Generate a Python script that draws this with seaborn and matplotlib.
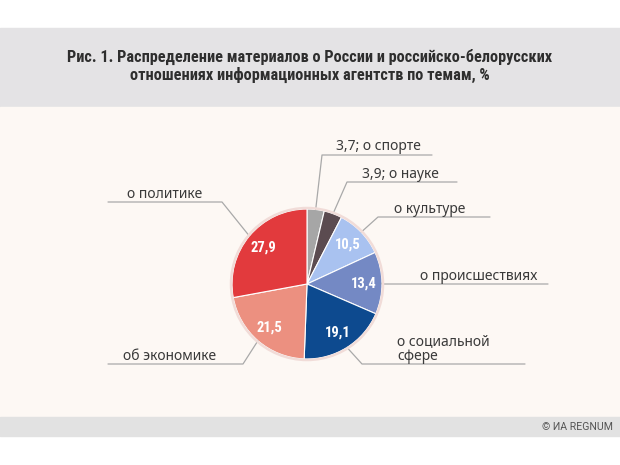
import numpy as np
import matplotlib
matplotlib.use("Agg")
import matplotlib.pyplot as plt
from matplotlib import font_manager
from matplotlib.patches import Rectangle, Circle
import seaborn as sns

# data (clockwise from 12 o'clock)
topics = ['о спорте', 'о науке', 'о культуре', 'о происшествиях',
          'о социальной\nсфере', 'об экономике', 'о политике']
shares = [3.7, 3.9, 10.5, 13.4, 19.1, 21.5, 27.9]
colors = ['#a6a6a6', '#5b4b50', '#a9c2f0', '#7489c4', '#0d4a8f', '#ec9080', '#e23a3d']

title = ('Рис. 1. Распределение материалов о России и российско-белорусских\n'
         'отношениях информационных агентств по темам, %')

sns.set_theme(style='white')
plt.rcParams['font.family'] = ['Noto Sans', 'DejaVu Sans']

# pick a narrow face for the bold texts if there is one
names = {f.name for f in font_manager.fontManager.ttflist}
narrow, title_size = 'Roboto', 10.2
for cand in ['Liberation Sans Narrow', 'Roboto Condensed', 'Open Sans Condensed']:
    if cand in names:
        narrow, title_size = cand, 11.7
        break

W, H = 620, 465
def Y(y):
    return H - y

fig = plt.figure(figsize=(6.2, 4.65), dpi=100)
ax = fig.add_axes([0, 0, 1, 1])

# background bands
ax.add_patch(Rectangle((0, Y(107)), W, 79, color='#e4e3e5', zorder=0))
ax.add_patch(Rectangle((0, Y(417)), W, 310, color='#fdf8f4', zorder=0))
ax.add_patch(Rectangle((0, Y(436)), W, 19, color='#e2e2e2', zorder=0))

cx, cy, r = 307, Y(284), 75
wedges, _ = ax.pie(shares, colors=colors, startangle=90, counterclock=False,
                   center=(cx, cy), radius=r,
                   wedgeprops=dict(edgecolor='white', linewidth=0.8))
ax.add_patch(Circle((cx, cy), r + 1, fill=False, edgecolor='#f1dcd8', lw=1.8, zorder=3))

ax.set_xlim(0, W)
ax.set_ylim(0, H)
ax.axis('off')

# label layout: elbow x, elbow y, line end x, text x, text y
layout = [
    (322, 155, 432, 336, 146),
    (347, 182, 457, 362, 174),
    (378, 217, 490, 394, 210),
    (382, 284, 548, 420, 276),
    (362, 364, 525, 397, 349),
    (243, 364, 108, 123, 356),
    (222, 202, 108, 127, 195),
]

for w, topic, val, (ex, ey, lx, tx, ty) in zip(wedges, topics, shares, layout):
    mid = np.deg2rad((w.theta1 + w.theta2) / 2)
    px, py = cx + r * np.cos(mid), cy + r * np.sin(mid)
    ax.plot([px, ex, lx], [py, Y(ey), Y(ey)], color='#a9a9a9', lw=0.9, zorder=2)
    label = topic
    if val < 5:
        label = f"{val:.1f}".replace('.', ',') + '; ' + topic
    else:
        vx, vy = cx + 0.76 * r * np.cos(mid), cy + 0.76 * r * np.sin(mid)
        ax.text(vx, vy, f"{val:.1f}".replace('.', ','), color='white', fontsize=10.5,
                fontweight='bold', ha='center', va='center', zorder=4,
                family=[narrow, 'DejaVu Sans'])
    ax.text(tx, Y(ty), label, fontsize=10, color='#3a3a3a', ha='left', va='center',
            linespacing=1.0, zorder=4)

ax.text(310, Y(66), title, fontsize=title_size, fontweight='bold', color='#2e2e2e',
        ha='center', va='center', linespacing=1.15,
        family=[narrow, 'DejaVu Sans'])
ax.text(613, Y(427), '© ИА REGNUM', fontsize=7.6, color='#555555', ha='right', va='center',
        family=['Roboto', 'DejaVu Sans'])

fig.savefig('out.png', dpi=100)
